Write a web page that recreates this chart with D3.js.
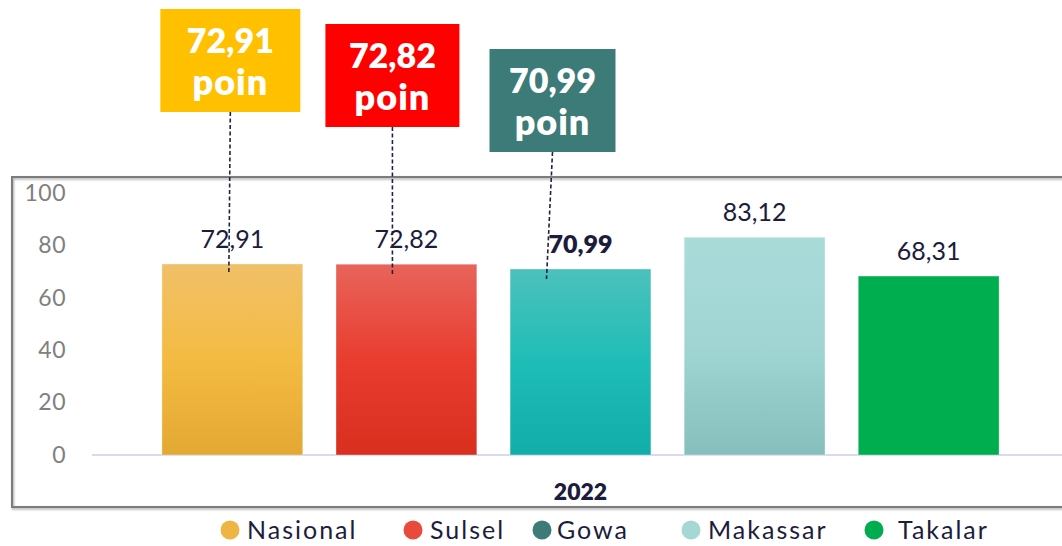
<!DOCTYPE html>
<html>
<head>
<meta charset="utf-8">
<script src="https://cdn.jsdelivr.net/npm/d3@7"></script>
<style>
  html, body { margin: 0; padding: 0; background: #ffffff; }
  svg { display: block; font-family: Lato, "Noto Sans", sans-serif; }
</style>
</head>
<body>
<svg id="chart" width="1062" height="546"></svg>
<script>
// ---- data ----
const categories = ["Nasional", "Sulsel", "Gowa", "Makassar", "Takalar"];
const values = [72.91, 72.82, 70.99, 83.12, 68.31];
const yTicks = [0, 20, 40, 60, 80, 100];
const yearLabel = "2022";
const callouts = ["Nasional", "Sulsel", "Gowa"]; // categories highlighted with a boxed value
const boldLabels = ["Gowa"];

// ---- styles ----
const barGradients = {
  Nasional: ["#f0c068", "#f4bb42", "#e3a832"],
  Sulsel:   ["#e8645b", "#e83d2f", "#d92f1f"],
  Gowa:     ["#4cc1bc", "#1fbdb7", "#11ada9"],
  Makassar: ["#a9dbd9", "#a0d5d3", "#85bfbb"],
  Takalar:  ["#00ae4f", "#00ae4f", "#00ae4f"]
};
const legendColors = {
  Nasional: "#eeb544", Sulsel: "#e84a3c", Gowa: "#3c7b78",
  Makassar: "#a5d8d5", Takalar: "#00ad4e"
};
const calloutColors = { Nasional: "#ffc000", Sulsel: "#ff0000", Gowa: "#3d7b78" };
// callout box layout: horizontal offset of box centre from the bar centre, top, width
const calloutLayout = {
  Nasional: { dx: -2,  top: 9,  w: 140, slant: -1.5 },
  Sulsel:   { dx: -14, top: 24, w: 134, slant: 0 },
  Gowa:     { dx: -28, top: 49, w: 126, slant: -6 }
};
const calloutH = 103;
const legendX = [230, 413, 542, 691, 874];
const legendGap = [17, 17, 15, 17, 24];

const svg = d3.select("#chart");
const fmt = v => v.toFixed(2).replace(".", ",");

// ---- scales ----
const x = d3.scaleBand().domain(categories).range([118.4, 1042.6])
  .paddingInner(0.191).paddingOuter(0.25);
const y = d3.scaleLinear().domain([0, 100]).range([455, 193]);

// ---- gradients ----
const defs = svg.append("defs");
categories.forEach((c, i) => {
  const g = defs.append("linearGradient").attr("id", "grad" + i)
    .attr("x1", 0).attr("y1", 0).attr("x2", 0).attr("y2", 1);
  const stops = barGradients[c];
  g.append("stop").attr("offset", "0%").attr("stop-color", stops[0]);
  g.append("stop").attr("offset", "50%").attr("stop-color", stops[1]);
  g.append("stop").attr("offset", "100%").attr("stop-color", stops[2]);
});
const shadow = defs.append("filter").attr("id", "frameShadow")
  .attr("x", "-5%").attr("y", "-5%").attr("width", "110%").attr("height", "110%");
shadow.append("feDropShadow").attr("dx", 1).attr("dy", 1.5)
  .attr("stdDeviation", 1).attr("flood-color", "#000").attr("flood-opacity", 0.35);

// ---- chart frame ----
svg.append("rect")
  .attr("x", 12).attr("y", 177).attr("width", 1070).attr("height", 330)
  .attr("fill", "none").attr("stroke", "#7c7c7c").attr("stroke-width", 2)
  .attr("filter", "url(#frameShadow)");

// ---- y axis ----
const yAxis = svg.append("g")
  .attr("transform", "translate(66,0)")
  .call(d3.axisLeft(y).tickValues(yTicks).tickSize(0).tickPadding(0));
yAxis.select(".domain").remove();
yAxis.selectAll("text")
  .attr("fill", "#808080")
  .style("font-family", "Lato, sans-serif")
  .style("font-size", "23px")
  .style("letter-spacing", "0.5px");

// ---- baseline ----
svg.append("line")
  .attr("x1", 92).attr("x2", 1062)
  .attr("y1", y(0)).attr("y2", y(0))
  .attr("stroke", "#d9d9f2").attr("stroke-width", 2);

// ---- bars ----
svg.append("g").selectAll("rect")
  .data(categories)
  .join("rect")
  .attr("x", d => x(d))
  .attr("y", (d, i) => y(values[i]))
  .attr("width", x.bandwidth())
  .attr("height", (d, i) => y(0) - y(values[i]))
  .attr("fill", (d, i) => `url(#grad${i})`)
  .attr("stroke", "rgba(255,255,255,0.35)")
  .attr("stroke-width", 1);

// ---- value labels ----
svg.append("g").selectAll("text")
  .data(categories)
  .join("text")
  .attr("x", d => x(d) + x.bandwidth() / 2)
  .attr("y", (d, i) => y(values[i]) - 16)
  .attr("text-anchor", "middle")
  .attr("fill", "#1c1c3c")
  .style("font-size", "25px")
  .style("font-weight", d => boldLabels.includes(d) ? 800 : 400)
  .text((d, i) => fmt(values[i]));

// ---- callouts ----
const cg = svg.append("g");
callouts.forEach(c => {
  const i = categories.indexOf(c);
  const L = calloutLayout[c];
  const cx = x(c) + x.bandwidth() / 2 + L.dx;
  // leader line from box to bar top
  cg.append("line")
    .attr("x1", cx).attr("y1", L.top + calloutH)
    .attr("x2", cx + L.slant).attr("y2", y(values[i]) + 10)
    .attr("stroke", "#22223f").attr("stroke-width", 1.6)
    .attr("stroke-dasharray", "4,2.5");
  cg.append("rect")
    .attr("x", cx - L.w / 2).attr("y", L.top)
    .attr("width", L.w).attr("height", calloutH)
    .attr("fill", calloutColors[c]);
  const t = cg.append("text")
    .attr("text-anchor", "middle")
    .attr("fill", "#ffffff")
    .style("font-size", "34px")
    .style("font-weight", 800);
  t.append("tspan").attr("x", cx).attr("y", L.top + 44).text(fmt(values[i]));
  t.append("tspan").attr("x", cx).attr("y", L.top + 86)
    .style("font-size", "36px").style("letter-spacing", "1px").text("poin");
});

// ---- category (year) label ----
svg.append("text")
  .attr("x", x(categories[2]) + x.bandwidth() / 2)
  .attr("y", 500)
  .attr("text-anchor", "middle")
  .attr("fill", "#1c1c3c")
  .style("font-size", "23px")
  .style("font-weight", 800)
  .text(yearLabel);

// ---- legend ----
const lg = svg.append("g").selectAll("g")
  .data(categories)
  .join("g")
  .attr("transform", (d, i) => `translate(${legendX[i]},530)`);
lg.append("circle").attr("r", 9.5).attr("fill", d => legendColors[d]);
lg.append("text")
  .attr("x", (d, i) => legendGap[i])
  .attr("y", 9)
  .attr("fill", "#1c1c3c")
  .style("font-size", "25px")
  .style("letter-spacing", "2px")
  .text(d => d);
</script>
</body>
</html>
